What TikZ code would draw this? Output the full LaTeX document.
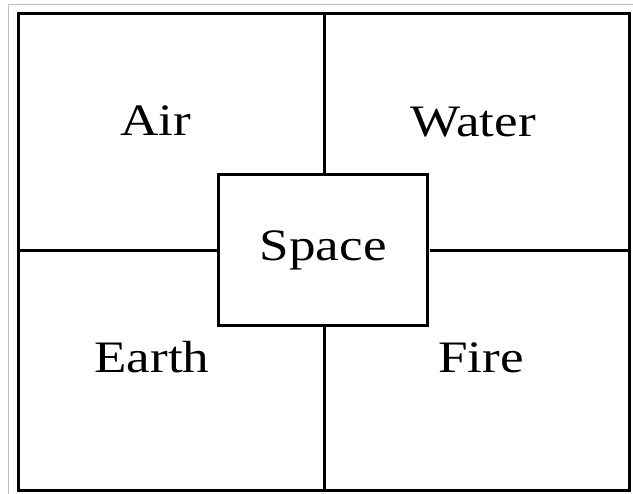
\documentclass[tikz,border=0pt]{standalone}
\usepackage{fontspec}
\setmainfont{Liberation Serif}
\usetikzlibrary{positioning}
\tikzset{
  wall/.style={draw=black,line width=3pt,inner sep=0pt},
  element/.style={font=\fontsize{45}{50}\selectfont,inner sep=0pt,xscale=1.18},
}

\begin{document}
\begin{tikzpicture}[x=1pt,y=-1pt]
  \useasboundingbox (0,0) rectangle (633,494);
  \draw[black!25,line width=1pt] (8,494)--(8,5)--(633,5);

  % outer frame and centre box
  \node[wall,minimum width=611pt,minimum height=476.5pt] (frame) at (324,252.25) {};
  \node[wall,element,minimum width=177.5pt,minimum height=151.5pt] (space) at (323.25,250.25) {Space};

  % dividing walls
  \draw[wall] (frame.north) -- (frame.north |- space.north);
  \draw[wall] (frame.south |- space.south) -- (frame.south);
  \draw[wall] (frame.west |- space.west) -- (space.west);
  \draw[wall] (space.east) -- (frame.east |- space.east);

  % the four quadrants
  \node[element,anchor=base] (air) at (156,136) {Air};
  \node[element,anchor=base] (water) at (473,137) {Water};
  \node[element,anchor=base] (earth) at (152,373) {Earth};
  \node[element,anchor=base] (fire) at (481,373) {Fire};
\end{tikzpicture}
\end{document}
